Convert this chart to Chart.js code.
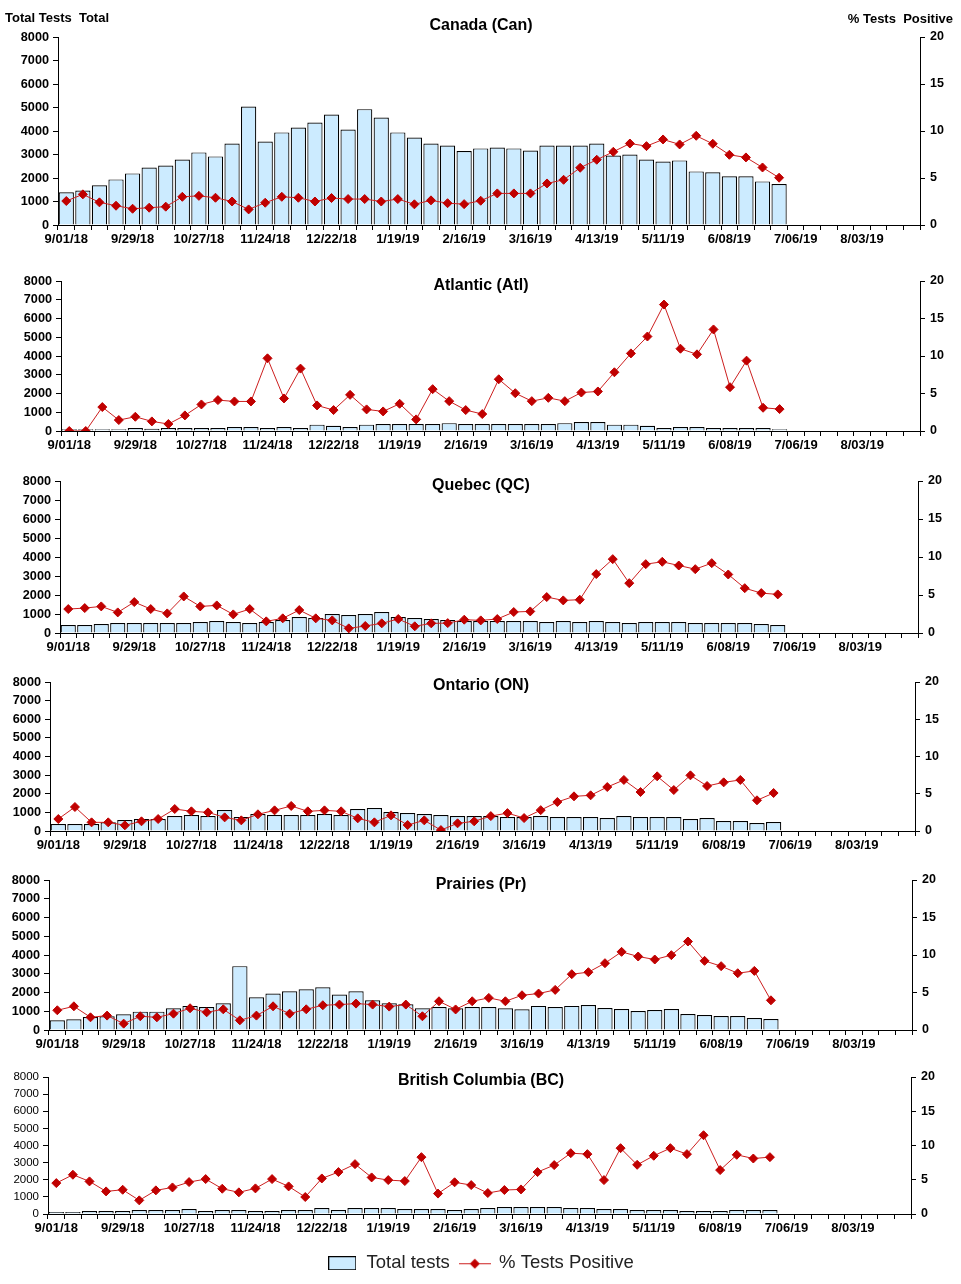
<!DOCTYPE html>
<html>
<head>
<meta charset="utf-8">
<script src="https://cdn.jsdelivr.net/npm/chart.js@4.4.0/dist/chart.umd.min.js"></script>
<style>
  body { margin: 0; background: #fff; }
  #wrap { position: relative; width: 961px; height: 1284px; overflow: hidden; }
  #wrap canvas { position: absolute; left: 0; }
</style>
</head>
<body>
<div id="wrap"></div>
<script>
// Semaines (début de semaine), 52 catégories
const weeks = ['9/01/18', '9/08/18', '9/15/18', '9/22/18', '9/29/18', '10/06/18', '10/13/18', '10/20/18', '10/27/18',
    '11/03/18', '11/10/18', '11/17/18', '11/24/18', '12/01/18', '12/08/18', '12/15/18', '12/22/18', '12/29/18',
    '1/05/19', '1/12/19', '1/19/19', '1/26/19', '2/02/19', '2/09/19', '2/16/19', '2/23/19', '3/02/19', '3/09/19',
    '3/16/19', '3/23/19', '3/30/19', '4/06/19', '4/13/19', '4/20/19', '4/27/19', '5/04/19', '5/11/19', '5/18/19',
    '5/25/19', '6/01/19', '6/08/19', '6/15/19', '6/22/19', '6/29/19', '7/06/19', '7/13/19', '7/20/19', '7/27/19',
    '8/03/19', '8/10/19', '8/17/19', '8/24/19']
const tickLabels = ['9/01/18', '9/29/18', '10/27/18', '11/24/18', '12/22/18', '1/19/19', '2/16/19', '3/16/19',
    '4/13/19', '5/11/19', '6/08/19', '7/06/19', '8/03/19']

// Canada
const canTotal = [1390, 1470, 1690, 1940, 2195, 2450, 2535, 2790, 3090, 2920, 3470, 5040, 3555, 3940, 4150, 4360, 4700, 4065, 4930, 4575,
    3940, 3725, 3470, 3385, 3145, 3260, 3300, 3260, 3170, 3385, 3385, 3385, 3470, 2960, 3000, 2790, 2705, 2750, 2280, 2240,
    2070, 2070, 1855, 1740]
const canPct = [2.55, 3.26, 2.41, 2.05, 1.73, 1.84, 1.95, 3.0, 3.1, 2.9, 2.5, 1.66, 2.37, 3.0, 2.9, 2.5, 2.87, 2.76, 2.76, 2.5,
    2.76, 2.2, 2.62, 2.32, 2.22, 2.58, 3.36, 3.36, 3.36, 4.42, 4.81, 6.09, 6.94, 7.79, 8.67, 8.39, 9.1, 8.57, 9.49, 8.64,
    7.47, 7.19, 6.12, 5.03]

// Atlantique
const atlTotal = [100, 100, 100, 100, 160, 120, 160, 160, 160, 160, 210, 210, 160, 210, 160, 340, 280, 210, 340, 370,
    370, 370, 370, 420, 370, 370, 370, 370, 370, 370, 420, 480, 480, 340, 340, 280, 160, 210, 210, 160,
    160, 160, 160, 100]
const atlPct = [0, 0, 3.19, 1.46, 1.9, 1.28, 0.93, 2.08, 3.54, 4.12, 3.94, 3.94, 9.69, 4.34, 8.32, 3.41, 2.79, 4.82, 2.88, 2.61,
    3.63, 1.55, 5.58, 3.98, 2.79, 2.26, 6.9, 5.04, 3.98, 4.42, 3.98, 5.13, 5.27, 7.83, 10.35, 12.6, 16.86, 10.97, 10.22, 13.54,
    5.84, 9.38, 3.1, 2.92]

// Québec
const qcTotal = [420, 420, 470, 525, 525, 525, 525, 525, 580, 630, 580, 525, 580, 680, 840, 790, 1000, 945, 1000, 1100,
    840, 790, 735, 680, 630, 630, 630, 630, 630, 580, 630, 580, 630, 580, 525, 580, 580, 580, 525, 525,
    525, 525, 470, 420]
const qcPct = [3.15, 3.28, 3.5, 2.71, 4.07, 3.15, 2.58, 4.81, 3.5, 3.63, 2.45, 3.15, 1.53, 1.93, 3.02, 1.93, 1.66, 0.61, 0.92, 1.27,
    1.84, 0.88, 1.27, 1.3, 1.75, 1.66, 1.84, 2.76, 2.84, 4.73, 4.29, 4.38, 7.75, 9.72, 6.56, 9.06, 9.37, 8.88, 8.4, 9.19,
    7.7, 5.9, 5.25, 5.08]

// Ontario
const onTotal = [375, 375, 375, 465, 590, 645, 645, 805, 860, 805, 1125, 750, 910, 860, 860, 860, 910, 860, 1180, 1235,
    1020, 965, 910, 860, 805, 805, 805, 750, 750, 805, 750, 750, 750, 700, 805, 750, 750, 750, 645, 700,
    535, 535, 430, 485]
const onPct = [1.61, 3.22, 1.16, 1.16, 0.76, 1.3, 1.61, 2.95, 2.64, 2.5, 1.83, 1.43, 2.24, 2.77, 3.36, 2.64, 2.77, 2.64, 1.7, 1.16,
    2.1, 0.8, 1.43, 0.12, 1.03, 1.3, 2.0, 2.4, 1.74, 2.8, 3.89, 4.65, 4.79, 5.9, 6.85, 5.23, 7.34, 5.5, 7.47, 6.04,
    6.53, 6.85, 4.12, 5.1]

// Prairies
const prTotal = [515, 570, 695, 730, 840, 980, 980, 1160, 1285, 1230, 1425, 3405, 1745, 1945, 2070, 2175, 2280, 1890, 2070, 1585,
    1425, 1370, 1160, 1230, 1160, 1230, 1230, 1160, 1105, 1285, 1230, 1285, 1335, 1175, 1120, 1015, 1070, 1120, 855, 800,
    750, 750, 640, 590]
const prPct = [2.63, 3.16, 1.69, 1.92, 0.85, 1.83, 1.69, 2.18, 2.9, 2.36, 2.76, 1.29, 1.92, 3.16, 2.18, 2.76, 3.3, 3.39, 3.52, 3.39,
    3.12, 3.39, 1.83, 3.83, 2.74, 3.83, 4.28, 3.83, 4.63, 4.86, 5.35, 7.44, 7.71, 8.91, 10.42, 9.8, 9.4, 9.98, 11.8, 9.22,
    8.51, 7.57, 7.88, 3.96]

// Colombie-Britannique
const bcTotal = [115, 115, 175, 175, 175, 235, 235, 235, 290, 175, 235, 235, 175, 175, 235, 235, 350, 235, 350, 350,
    350, 290, 290, 290, 235, 290, 350, 410, 410, 410, 410, 350, 350, 290, 290, 235, 235, 235, 175, 175,
    175, 235, 235, 235]
const bcPct = [4.51, 5.73, 4.76, 3.3, 3.54, 1.99, 3.45, 3.88, 4.66, 5.1, 3.69, 3.16, 3.74, 5.1, 4.03, 2.48, 5.19, 6.12, 7.28, 5.34,
    4.95, 4.81, 8.3, 2.98, 4.63, 4.22, 3.06, 3.5, 3.59, 6.12, 7.14, 8.88, 8.74, 4.95, 9.61, 7.18, 8.5, 9.61, 8.74, 11.5,
    6.41, 8.64, 8.1, 8.3]


const FONT = 'Arial, "Liberation Sans", sans-serif'
Chart.defaults.font.family = FONT
Chart.defaults.color = '#000'

const BAR_FILL = '#CCEBFF'
const LINE_RED = '#CC1F1F'
const MARK_RED = '#C00000'

// Position des panneaux sur la page (px)
const panels = [
    { title: 'Canada (Can)', total: canTotal, pct: canPct, left: 58, right: 920, top: 37, bottom: 225, titleY: 26, head: true },
    { title: 'Atlantic (Atl)', total: atlTotal, pct: atlPct, left: 61, right: 920, top: 281, bottom: 431, titleY: 286 },
    { title: 'Quebec (QC)', total: qcTotal, pct: qcPct, left: 60, right: 918, top: 481, bottom: 633, titleY: 486 },
    { title: 'Ontario (ON)', total: onTotal, pct: onPct, left: 50, right: 915, top: 682, bottom: 831, titleY: 686 },
    { title: 'Prairies (Pr)', total: prTotal, pct: prPct, left: 49, right: 912, top: 880, bottom: 1030, titleY: 885 },
    { title: 'British Columbia (BC)', total: bcTotal, pct: bcPct, left: 48, right: 911, top: 1077, bottom: 1214, titleY: 1081, legend: true, light: true }
]

// Titre du panneau et en-têtes des axes
const panelText = {
    id: 'panelText',
    afterDraw(chart, args, opts) {
        const ctx = chart.ctx
        ctx.save()
        ctx.fillStyle = '#000'
        ctx.textBaseline = 'middle'
        ctx.textAlign = 'center'
        ctx.font = 'bold 16px ' + FONT
        ctx.fillText(opts.title, 481, opts.titleY)
        if (opts.head) {
            ctx.font = 'bold 13px ' + FONT
            ctx.textAlign = 'left'
            ctx.fillText('Total Tests  Total', 5, 18)
            ctx.textAlign = 'right'
            ctx.fillText('% Tests  Positive', 953, 19)
        }
        ctx.restore()
    }
}

// Images pour la légende
function legendBox() {
    const c = document.createElement('canvas')
    c.width = 28; c.height = 14
    const g = c.getContext('2d')
    g.fillStyle = BAR_FILL
    g.fillRect(0.5, 0.5, 27, 13)
    g.strokeStyle = '#000'
    g.lineWidth = 1
    g.strokeRect(0.5, 0.5, 27, 13)
    return c
}
function legendLine() {
    const c = document.createElement('canvas')
    c.width = 32; c.height = 12
    const g = c.getContext('2d')
    g.strokeStyle = LINE_RED
    g.lineWidth = 1
    g.beginPath(); g.moveTo(0, 6.5); g.lineTo(32, 6.5); g.stroke()
    g.fillStyle = MARK_RED
    g.beginPath(); g.moveTo(16, 1.5); g.lineTo(21, 6.5); g.lineTo(16, 11.5); g.lineTo(11, 6.5); g.closePath(); g.fill()
    return c
}

const wrap = document.getElementById('wrap')

panels.forEach(p => {
    const canvasTop = p.head ? 0 : p.top - 22
    const H = p.legend ? 1284 - canvasTop : p.bottom + 26 - canvasTop
    const padBottom = p.legend ? 1.5 : 0
    const legendH = p.legend ? 38.5 : 0
    const xH = H - padBottom - legendH - (p.bottom - canvasTop)

    const canvas = document.createElement('canvas')
    canvas.width = 961
    canvas.height = H
    canvas.style.top = canvasTop + 'px'
    wrap.appendChild(canvas)

    const data = {
        labels: weeks,
        datasets: [
            {
                type: 'bar',
                label: 'Total tests',
                data: p.total,
                yAxisID: 'y',
                backgroundColor: BAR_FILL,
                borderColor: '#000',
                borderWidth: 1.2,
                barPercentage: 0.92,
                categoryPercentage: 1,
                order: 1
            },
            {
                type: 'line',
                label: '% Tests Positive',
                data: p.pct,
                yAxisID: 'y1',
                borderColor: LINE_RED,
                borderWidth: 1,
                pointStyle: 'rectRot',
                pointRadius: 4.5,
                pointBackgroundColor: MARK_RED,
                pointBorderColor: MARK_RED,
                pointBorderWidth: 1,
                tension: 0,
                order: 0
            }
        ]
    }

    const axisGrid = { display: true, drawOnChartArea: false, drawTicks: true, tickLength: 5, color: '#000', lineWidth: 1 }
    const axisBorder = { display: true, color: '#000', width: 1 }

    const options = {
        responsive: false,
        animation: false,
        events: [],
        layout: { padding: { top: p.top - canvasTop, bottom: padBottom, left: 0, right: 0 } },
        scales: {
            x: {
                offset: true,
                grid: { ...axisGrid, offset: true },
                border: axisBorder,
                ticks: {
                    autoSkip: false,
                    maxRotation: 0,
                    padding: 2,
                    font: { size: 13, weight: 'bold' },
                    callback: (value, index) => tickLabels.includes(weeks[index]) ? weeks[index] : ''
                },
                afterFit: scale => { scale.height = xH }
            },
            y: {
                position: 'left',
                min: 0,
                max: 8000,
                grid: axisGrid,
                border: axisBorder,
                ticks: {
                    stepSize: 1000,
                    padding: 4,
                    font: p.light ? { size: 11.5, weight: 'normal' } : { size: 12.7, weight: 'bold' },
                    callback: value => String(value)
                },
                afterFit: scale => { scale.width = p.left }
            },
            y1: {
                position: 'right',
                min: 0,
                max: 20,
                grid: axisGrid,
                border: axisBorder,
                ticks: { stepSize: 5, padding: 5, font: { size: 12.5, weight: 'bold' } },
                afterFit: scale => { scale.width = 961 - p.right }
            }
        },
        plugins: {
            tooltip: { enabled: false },
            panelText: { title: p.title, titleY: p.titleY - canvasTop, head: !!p.head },
            legend: {
                display: !!p.legend,
                position: 'bottom',
                labels: {
                    usePointStyle: true,
                    pointStyleWidth: 30,
                    padding: 10,
                    color: '#222',
                    font: { size: 18.5, weight: 'normal' },
                    sort: (a, b) => a.datasetIndex - b.datasetIndex,
                    generateLabels: chart => {
                        const items = Chart.defaults.plugins.legend.labels.generateLabels(chart)
                        items.forEach(item => {
                            item.pointStyle = item.datasetIndex === 0 ? legendBox() : legendLine()
                        })
                        return items
                    }
                }
            }
        }
    }

    new Chart(canvas, { data, options, plugins: [panelText] })
})
</script>
</body>
</html>
